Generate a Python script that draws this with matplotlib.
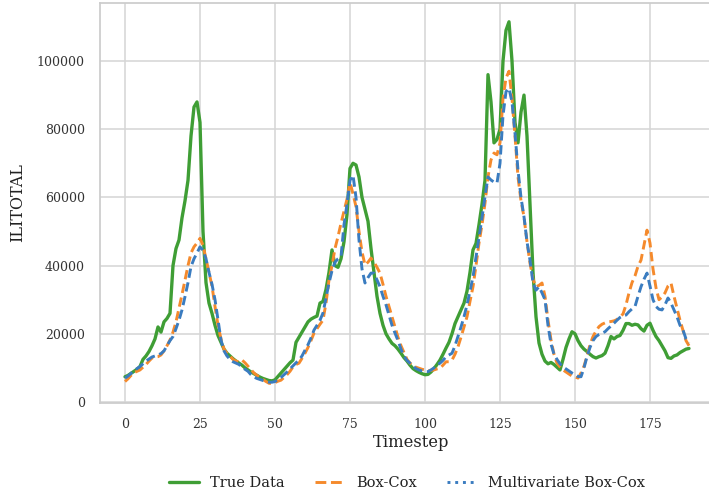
import numpy as np
import matplotlib
matplotlib.use("Agg")
import matplotlib.pyplot as plt
import seaborn as sns
from matplotlib.lines import Line2D

true_data = [
    7400, 7800, 8400, 9000, 9600, 10400, 12500, 13500, 14800, 16500,
    18500, 22000, 20500, 23500, 24500, 26000, 40000, 45000, 47500, 54000,
    59000, 65000, 78000, 86500, 88000, 82000, 50000, 35000, 29000, 26000,
    22500, 19500, 17500, 15500, 14300, 13500, 12700, 12000, 11400, 10800,
    10000, 9400, 8800, 8300, 7800, 7300, 6900, 6600, 6300, 6200,
    6500, 7500, 8500, 9500, 10500, 11500, 12300, 17500, 19000, 20500,
    22000, 23500, 24300, 24800, 25200, 29000, 29500, 33000, 38000, 44600,
    40000, 39500, 42000, 47000, 55000, 68500, 70000, 69500, 66000, 60000,
    56500, 53000, 45000, 38000, 31000, 26000, 22500, 20000, 18500, 17200,
    16500, 15500, 14300, 13000, 12000, 10800, 9800, 9200, 8700, 8300,
    8000, 8100, 8800, 9800, 11000, 12300, 14000, 15800, 17500, 20000,
    23000, 25000, 27000, 29000, 32500, 38000, 44600, 46500, 52000, 58000,
    65000, 96000, 88000, 76000, 77000, 80000, 100000, 109000, 111500, 100000,
    82000, 76000, 85000, 90000, 78000, 58000, 38000, 25000, 17300, 14000,
    12000, 11200, 11600, 11000, 10200, 9400, 12500, 16000, 18500, 20600,
    20000, 18000, 16500, 15500, 14800, 14000, 13300, 12900, 13300, 13600,
    14300, 16500, 19200, 18500, 19200, 19500, 21000, 23000, 23000, 22500,
    22800, 22600, 21500, 20800, 22500, 23100, 21000, 19200, 18000, 16500,
    15000, 13000, 12800, 13500, 13800, 14500, 15000, 15500, 15700,
]

box_cox = [
    6000, 6800, 7800, 8600, 9000, 9400, 10200, 11000, 12000, 12900,
    13200, 13300, 13800, 15000, 16500, 18200, 20500, 23500, 27500, 31500,
    35800, 40000, 43700, 45500, 46600, 48000, 46000, 42000, 38000, 34000,
    28000, 22500, 18500, 15500, 14300, 13500, 12500, 12000, 11800, 12300,
    11500, 10500, 9500, 8500, 7800, 7200, 6600, 6000, 5500, 5400,
    5700, 6100, 6400, 7200, 8000, 9000, 10300, 11000, 11400, 12800,
    14300, 16000, 18000, 20200, 21500, 22800, 24000, 29000, 35800, 40000,
    45000, 48500, 52400, 56000, 59500, 64500, 61000, 57300, 50000, 44000,
    40200, 41000, 42200, 41000, 39500, 37800, 34500, 31000, 28000, 25000,
    22000, 19000, 16500, 14500, 12500, 11400, 10600, 10200, 9900, 9600,
    9400, 9200, 9300, 9400, 9700, 9900, 10800, 11800, 11800, 12300,
    14000, 16200, 19000, 22000, 25000, 29500, 33800, 40000, 46600, 52000,
    58300, 66000, 71000, 73000, 72500, 76000, 89000, 95000, 97000, 89000,
    78000, 66000, 59000, 54300, 47000, 40700, 36000, 33800, 34200, 34900,
    31000, 24000, 18200, 14000, 11400, 10300, 9400, 8800, 8200, 7600,
    7400, 7000, 8500, 10500, 13500, 16800, 19200, 20800, 22100, 22800,
    23200, 23500, 23600, 23800, 24200, 25000, 25800, 28500, 32000, 35000,
    37000, 39800, 41600, 46000, 50400, 46600, 39000, 33500, 30000, 30800,
    32000, 34000, 34900, 31000, 27500, 24000, 21000, 18000, 16500,
]

multi_box_cox = [
    7000, 7600, 8400, 9200, 9800, 10400, 11200, 12000, 12600, 13200,
    13500, 13800, 14200, 15000, 16500, 18000, 19200, 21500, 24000, 27000,
    30900, 35000, 39700, 42000, 43700, 45500, 44500, 42000, 38000, 34500,
    30000, 24000, 18200, 15000, 13500, 12500, 11800, 11400, 11000, 10200,
    9600, 9000, 8000, 7300, 6900, 6600, 6300, 6000, 5800, 5800,
    6000, 6600, 7200, 8000, 8800, 9700, 10600, 11500, 12300, 13500,
    15200, 16800, 18800, 21100, 22500, 24000, 26100, 30500, 34900, 38500,
    41000, 42000, 42600, 52000, 58000, 65000, 66500, 60000, 47500, 39000,
    34900, 36500, 37800, 37800, 35800, 33800, 31000, 28500, 25500, 22500,
    20200, 18000, 15500, 13500, 12200, 11400, 10500, 9800, 9400, 9100,
    8900, 8900, 9400, 10000, 10800, 11400, 12200, 13300, 13800, 14300,
    16500, 19200, 22000, 25000, 28500, 32500, 36700, 42500, 48500, 54000,
    60200, 66000, 65100, 64500, 64200, 70000, 84000, 91000, 92000, 88000,
    78800, 68000, 60000, 54300, 47000, 41600, 35000, 32800, 33800, 32000,
    30000, 22500, 17000, 14000, 12500, 11200, 10300, 9700, 9100, 8500,
    8000, 7500, 7400, 10000, 13300, 16000, 18000, 19200, 19800, 20200,
    20600, 21500, 22300, 23100, 24000, 24800, 25300, 25500, 26500, 27300,
    28000, 31000, 33800, 36000, 37800, 34000, 30000, 28000, 27200, 27000,
    28500, 30500, 29000, 27000, 25000, 22500, 21100, 18500, 17300,
]

labels = ["True Data", "Box-Cox", "Multivariate Box-Cox"]
xticks = [0, 25, 50, 75, 100, 125, 150, 175]
yticks = [0, 20000, 40000, 60000, 80000, 100000]

sns.set_theme(style="whitegrid")
plt.rcParams['font.family'] = ['DejaVu Serif']

c_green = "#3f9e35"
c_orange = "#f58a2c"
c_blue = "#3a7cc0"

fig = plt.figure(figsize=(7.09, 4.97), dpi=100)
ax = fig.add_axes([100/709, (497-403)/497, (723-100)/709, 400/497])

t = np.arange(len(true_data))
ax.plot(t, true_data, color=c_green, lw=2.4, solid_capstyle='round')
ax.plot(t, box_cox, color=c_orange, lw=2.1, linestyle=(0, (3.2, 1.6)))
ax.plot(t, multi_box_cox, color=c_blue, lw=2.1, linestyle=(0, (3.2, 1.6)))

ax.set_xlim(-25/3, (723-125)/3)
ax.set_ylim(-1000/3.41, (402-3)/3.41*1000)
ax.set_xticks(xticks)
ax.set_yticks(yticks)
ax.tick_params(labelsize=9, colors='#333333', pad=5)
ax.set_xlabel("Timestep", fontsize=11.8, color='#222222', labelpad=2)
ax.set_ylabel("ILITOTAL", fontsize=11.5, color='#222222', labelpad=8)
for s in ax.spines.values():
    s.set_color('#cccccc')
ax.spines['right'].set_visible(False)
ax.grid(color='#d5d5d5', lw=1.1)

handles = [
    Line2D([], [], color=c_green, lw=2.4),
    Line2D([], [], color=c_orange, lw=2.1, linestyle='--'),
    Line2D([], [], color=c_blue, lw=2.1, linestyle=':'),
]
fig.legend(handles, labels, loc='center', bbox_to_anchor=(407/709, 14/497),
           ncol=3, frameon=False, fontsize=10.5, handlelength=2.05,
           handletextpad=0.75, columnspacing=2.1, labelcolor='#222222')

fig.savefig("out.png", dpi=100)
